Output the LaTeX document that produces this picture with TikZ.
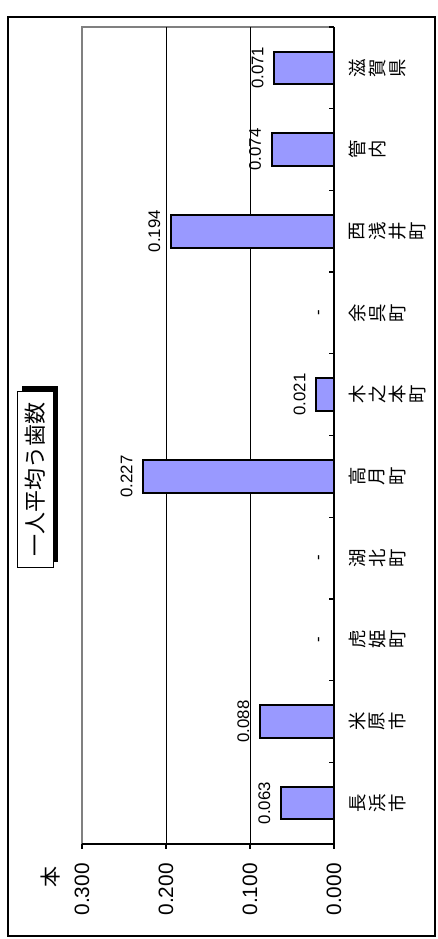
\documentclass[tikz,border=0pt]{standalone}
\usepackage{fontspec}
\setmainfont{Liberation Sans}
\newfontfamily\jpfont{Noto Sans CJK JP}
\definecolor{barblue}{HTML}{9999FF}
\definecolor{framegray}{HTML}{808080}
\tikzset{
	bar/.style={draw, line width=1pt, fill=barblue},
	value/.style={rotate=90, inner sep=0pt, font=\fontsize{8.4}{8.4}\selectfont},
	axislabel/.style={rotate=90, inner sep=0pt, font=\fontsize{10.4}{10.4}\selectfont},
	cat/.style={rotate=90, inner sep=0pt, font=\jpfont\fontsize{9.2}{9.2}\selectfont}
}
\begin{document}
\begin{tikzpicture}[x=0.5pt, y=-0.5pt]
\useasboundingbox (0,0) rectangle (438,939);

\draw [line width=0.65pt] (8,17) rectangle (435,936);

% plot area and grid
\draw [framegray, line width=0.8pt] (334,27) -- (82,27) -- (82,844);
\foreach \x in {166, 250}
{
	\draw [line width=0.5pt] (\x,27) -- (\x,844);
}
\draw [line width=0.65pt] (82,844) -- (334,844) -- (334,27);
\foreach \k in {0,...,3}
{
	\draw [line width=0.65pt] (334-84*\k, 844) -- ++(0,5);
}
\foreach \k in {0,...,10}
{
	\draw [line width=0.65pt] (334, 27+81.7*\k) -- ++(-5,0);
}

% bars
\foreach \i/\v in {0/0.071, 1/0.074, 2/0.194, 4/0.021, 5/0.227, 8/0.088, 9/0.063}
{
	\pgfmathparse{67.85 + 81.7*\i};
	\let\y\pgfmathresult;
	\pgfmathparse{334 - 840*\v};
	\let\x\pgfmathresult;
	\draw[bar] (334, \y-16.3) rectangle (\x, \y+16.3);
	\node[value, anchor=base] (v\i) at (\x-11, \y) {\v};
}
\foreach \i in {3, 6, 7}
{
	\pgfmathparse{67.85 + 81.7*\i};
	\let\y\pgfmathresult;
	\node[value, anchor=base] (v\i) at (323, \y) {-};
}

% category names, one character after another
\foreach \i/\town in {0/{滋,賀,県}, 1/{管,内}, 2/{西,浅,井,町}, 3/{余,呉,町}, 4/{木,之,本,町},
	5/{高,月,町}, 6/{湖,北,町}, 7/{虎,姫,町}, 8/{米,原,市}, 9/{長,浜,市}}
{
	\pgfmathparse{67.85 + 81.7*\i};
	\let\y\pgfmathresult;
	\foreach \ch [count=\j] in \town
	{
		\node[cat] (c\i-\j) at (337.5 + 20*\j, \y) {\ch};
	}
}

% value axis
\foreach \k/\t in {0/0.000, 1/0.100, 2/0.200, 3/0.300}
{
	\node[axislabel, anchor=east] (a\k) at (334-84*\k, 863) {\t};
}
\node[cat, font=\jpfont\fontsize{10.5}{10.5}\selectfont] (unit) at (51, 877) {本};

% title
\fill (22,386) rectangle (58,562);
\node[draw, fill=white, rotate=90, minimum width=88pt, minimum height=18pt, inner sep=0pt,
	font=\jpfont\fontsize{11}{11}\selectfont] (title) at (35,479) {一人平均う歯数};
\end{tikzpicture}
\end{document}
